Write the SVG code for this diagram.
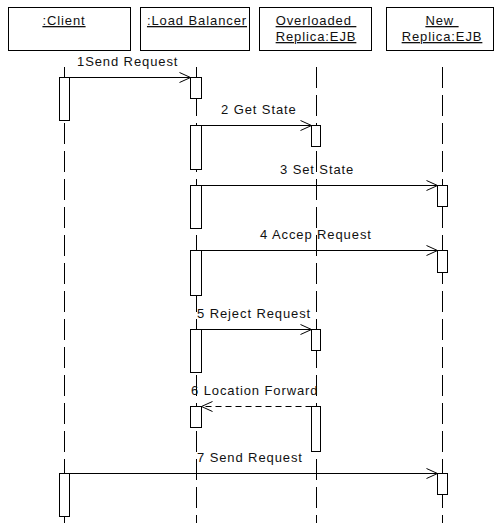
<svg xmlns="http://www.w3.org/2000/svg" width="494" height="523" viewBox="0 0 494 523">
  <style>
    .box { fill: #fff; stroke: #000; stroke-width: 1; }
    .life { stroke: #000; stroke-width: 1; stroke-dasharray: 21 7; fill: none; }
    .act { fill: #fff; stroke: #000; stroke-width: 1; }
    .name { font-family: "Liberation Sans", Arial, sans-serif; font-size: 13px; letter-spacing: 0.9px; fill: #111; text-anchor: middle; text-decoration: underline; }
    .msg { stroke: #000; stroke-width: 1; fill: none; marker-end: url(#open); }
    .ret { stroke-dasharray: 6 4; }
    .lbl { font-family: "Liberation Sans", Arial, sans-serif; font-size: 13px; letter-spacing: 0.9px; fill: #111; }
  </style>
  <defs>
    <marker id="open" viewBox="-12 -6 13 12" markerWidth="13" markerHeight="12" refX="0" refY="0" orient="auto" markerUnits="userSpaceOnUse">
      <path d="M-11,-5 L0,0 L-11,5" fill="none" stroke="#000" stroke-width="1"/>
    </marker>
  </defs>

  <rect width="494" height="523" fill="#fff"/>

  <!-- :Client -->
  <g id="client">
    <rect class="box" x="8.5" y="7.5" width="122" height="43"/>
    <text class="name" x="64" y="25">:Client</text>
    <line class="life" x1="64.5" y1="67" x2="64.5" y2="523"/>
    <rect class="act" x="59.5" y="77.5" width="10" height="43"/>
    <rect class="act" x="59.5" y="473.5" width="10" height="43"/>
  </g>

  <!-- :Load Balancer -->
  <g id="load-balancer">
    <rect class="box" x="140.5" y="7.5" width="109" height="43"/>
    <text class="name" x="197" y="25">:Load Balancer</text>
    <line class="life" x1="196.5" y1="67" x2="196.5" y2="523"/>
    <rect class="act" x="190.5" y="77.5" width="11" height="21"/>
    <rect class="act" x="190.5" y="125.5" width="11" height="44"/>
    <rect class="act" x="190.5" y="185.5" width="11" height="43"/>
    <rect class="act" x="190.5" y="250.5" width="11" height="45"/>
    <rect class="act" x="190.5" y="329.5" width="11" height="43"/>
    <rect class="act" x="190.5" y="406.5" width="11" height="21"/>
  </g>

  <!-- Overloaded Replica:EJB -->
  <g id="overloaded-replica">
    <rect class="box" x="259.5" y="7.5" width="112" height="43"/>
    <text class="name" x="316" y="25" xml:space="preserve">Overloaded&#160;</text>
    <text class="name" x="316" y="41">Replica:EJB</text>
    <line class="life" x1="316.5" y1="67" x2="316.5" y2="523"/>
    <rect class="act" x="311.5" y="125.5" width="9" height="21"/>
    <rect class="act" x="311.5" y="329.5" width="9" height="21"/>
    <rect class="act" x="311.5" y="406.5" width="9" height="45"/>
  </g>

  <!-- New Replica:EJB -->
  <g id="new-replica">
    <rect class="box" x="386.5" y="7.5" width="107" height="43"/>
    <text class="name" x="442" y="25" xml:space="preserve">New&#160;</text>
    <text class="name" x="442" y="41">Replica:EJB</text>
    <line class="life" x1="442.5" y1="67" x2="442.5" y2="523"/>
    <rect class="act" x="437.5" y="185.5" width="10" height="21"/>
    <rect class="act" x="437.5" y="250.5" width="10" height="22"/>
    <rect class="act" x="437.5" y="473.5" width="10" height="21"/>
  </g>

  <!-- messages -->
  <g id="connectors">
    <line class="msg" x1="69.5" y1="77.5" x2="190.5" y2="77.5"/>
    <text class="lbl" x="77" y="66">1Send Request</text>

    <line class="msg" x1="201.5" y1="125.5" x2="311.5" y2="125.5"/>
    <text class="lbl" x="221" y="114">2 Get State</text>

    <line class="msg" x1="201.5" y1="185.5" x2="437.5" y2="185.5"/>
    <text class="lbl" x="280" y="174">3 Set State</text>

    <line class="msg" x1="201.5" y1="250.5" x2="437.5" y2="250.5"/>
    <text class="lbl" x="260" y="239">4 Accep Request</text>

    <line class="msg" x1="201.5" y1="329.5" x2="311.5" y2="329.5"/>
    <text class="lbl" x="197" y="318">5 Reject Request</text>

    <line class="msg ret" x1="311.5" y1="406.5" x2="201.5" y2="406.5"/>
    <text class="lbl" x="191" y="395">6 Location Forward</text>

    <line class="msg" x1="69.5" y1="473.5" x2="437.5" y2="473.5"/>
    <text class="lbl" x="197" y="462">7 Send Request</text>
  </g>
</svg>
